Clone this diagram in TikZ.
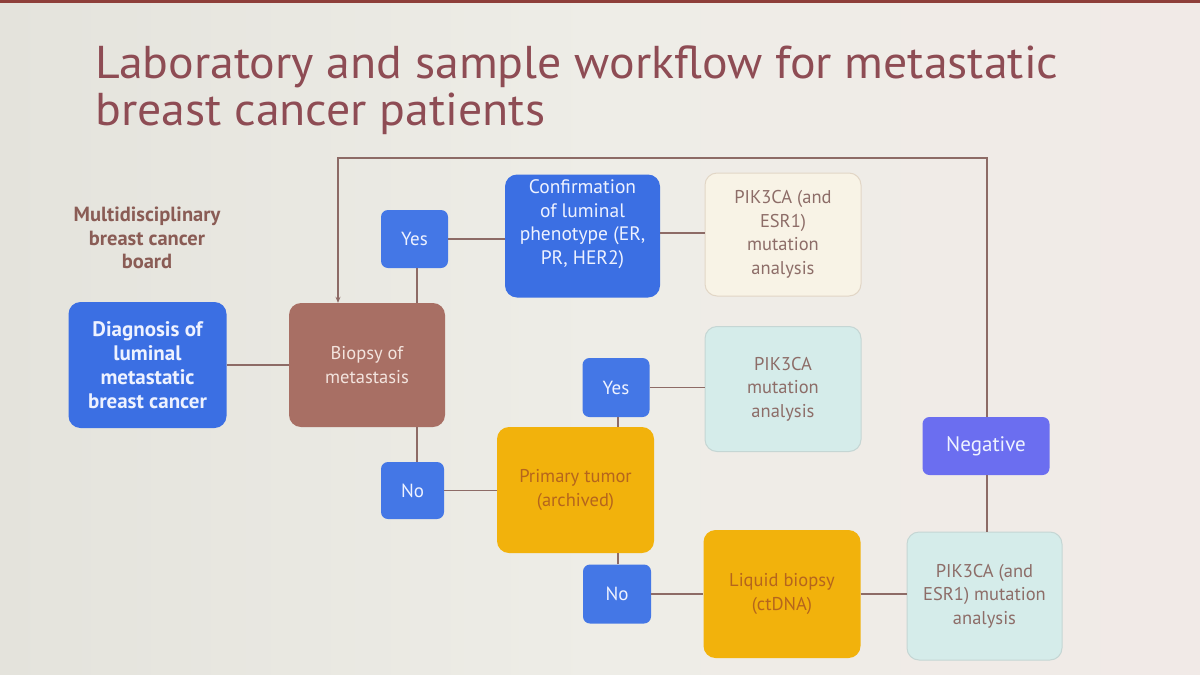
\documentclass[tikz,border=0pt]{standalone}
\usepackage{fontspec}
\setmainfont{PT Sans}
\usetikzlibrary{arrows.meta}
\definecolor{bgL}{HTML}{E4E3DC}
\definecolor{bgM}{HTML}{EEEDE7}
\definecolor{bgR}{HTML}{F1EAE7}
\definecolor{topred}{HTML}{8E3F3A}
\definecolor{titlec}{HTML}{8E4C54}
\definecolor{boardc}{HTML}{8A5C55}
\definecolor{blueA}{HTML}{3B6FE3}
\definecolor{blueY}{HTML}{4477E6}
\definecolor{negc}{HTML}{6B6EF0}
\definecolor{brownc}{HTML}{A86F64}
\definecolor{orangec}{HTML}{F2B20C}
\definecolor{creamc}{HTML}{F8F3E6}
\definecolor{creamb}{HTML}{E2D6C6}
\definecolor{cyanc}{HTML}{D5ECEA}
\definecolor{cyanb}{HTML}{C5D6D4}
\definecolor{graytxt}{HTML}{8D6D68}
\definecolor{oratxt}{HTML}{B5651D}
\definecolor{bluetxt}{HTML}{EEF2FF}
\definecolor{browntxt}{HTML}{F3E4DE}
\definecolor{linec}{HTML}{8D6B66}
\tikzset{
  box/.style={rounded corners=12pt, inner sep=0pt, align=center,
    font=\fontsize{18.5}{23.5}\selectfont},
  small/.style={rounded corners=7pt, inner sep=0pt, align=center,
    font=\fontsize{19}{23}\selectfont, fill=blueY, text=bluetxt},
  bluebox/.style={box, fill=blueA, text=bluetxt},
  brownbox/.style={box, fill=brownc, text=browntxt},
  orangebox/.style={box, fill=orangec, text=oratxt},
  creambox/.style={box, fill=creamc, draw=creamb, line width=1pt, text=graytxt},
  cyanbox/.style={box, fill=cyanc, draw=cyanb, line width=1pt, text=graytxt},
  conn/.style={draw=linec, line width=1.3pt},
}
\begin{document}
\begin{tikzpicture}[x=1pt,y=-1pt]
\useasboundingbox (0,0) rectangle (1200,675);
\shade[left color=bgL, right color=bgR, middle color=bgM] (0,0) rectangle (1200,675);
\fill[topred] (0,0) rectangle (1200,3);

% title
\node[anchor=base west, inner sep=0pt, text=titlec, xscale=1.04, font=\fontsize{46}{48}\selectfont] (title1) at (95,78) {Laboratory and sample workflow for metastatic};
\node[anchor=base west, inner sep=0pt, text=titlec, xscale=1.04, font=\fontsize{46}{48}\selectfont] (title2) at (95,125) {breast cancer patients};

% board label
\node[align=center, text=boardc, font=\bfseries\fontsize{20.5}{23.5}\selectfont] (board) at (147,238) {Multidisciplinary\\breast cancer\\board};

% boxes
\node[bluebox, minimum width=158pt, minimum height=126pt, font=\bfseries\fontsize{21}{24}\selectfont] (diag) at (147.5,365) {Diagnosis of\\luminal\\metastatic\\breast cancer};
\node[brownbox, minimum width=156pt, minimum height=124pt] (biopsy) at (367,365) {Biopsy of\\metastasis};
\node[small, minimum width=67pt, minimum height=58pt] (yes1) at (414.5,239) {Yes};
\node[bluebox, minimum width=155pt, minimum height=123pt, font=\fontsize{19.5}{23.5}\selectfont] (confirm) at (582.5,236) {Confirmation\\of luminal\\phenotype (ER,\\PR, HER2)\\[4pt]};
\node[creambox, minimum width=156pt, minimum height=123pt] (piktop) at (783,234.5) {PIK3CA (and\\ESR1)\\mutation\\analysis};
\node[small, minimum width=67pt, minimum height=59pt] (yes2) at (616,387.5) {Yes};
\node[cyanbox, minimum width=156pt, minimum height=125pt] (pikmut) at (783,389) {PIK3CA\\mutation\\analysis};
\node[small, minimum width=63pt, minimum height=57pt] (no1) at (412.5,490.5) {No};
\node[orangebox, minimum width=157pt, minimum height=126pt] (primary) at (575.5,490) {Primary tumor\\(archived)};
\node[small, minimum width=68pt, minimum height=59pt] (no2) at (617,594) {No};
\node[orangebox, minimum width=157pt, minimum height=128pt] (liquid) at (782,594) {Liquid biopsy\\(ctDNA)};
\node[small, fill=negc, minimum width=127pt, minimum height=58pt, font=\fontsize{21}{23}\selectfont] (neg) at (986,446) {Negative};
\node[cyanbox, minimum width=155pt, minimum height=128pt] (pikbot) at (984.5,596) {PIK3CA (and\\ESR1) mutation\\analysis};

% connectors
\coordinate (loop) at (338,158);
\draw[conn] (diag.east) -- (diag.east -| biopsy.west);
\draw[conn] ([xshift=2.5pt]yes1.south) -- ([xshift=2.5pt]yes1.south |- biopsy.north);
\draw[conn] (yes1.east) -- (yes1.east -| confirm.west);
\draw[conn] ([yshift=3pt]confirm.east) -- ([yshift=3pt]confirm.east -| piktop.west);
\draw[conn] ([xshift=4.5pt]no1.north) -- ([xshift=4.5pt]no1.north |- biopsy.south);
\draw[conn] (no1.east) -- (no1.east -| primary.west);
\draw[conn] ([xshift=2pt]yes2.south) -- ([xshift=2pt]yes2.south |- primary.north);
\draw[conn] (yes2.east) -- (yes2.east -| pikmut.west);
\draw[conn] ([xshift=1pt]no2.north) -- ([xshift=1pt]no2.north |- primary.south);
\draw[conn] (no2.east) -- (no2.east -| liquid.west);
\draw[conn] (liquid.east) -- (liquid.east -| pikbot.west);
\draw[conn] ([xshift=1pt]neg.south) -- ([xshift=1pt]neg.south |- pikbot.north);
\draw[conn, -{Stealth[length=6pt,width=5pt]}] ([xshift=1pt]neg.north) |- (loop) -- (loop |- biopsy.north);
\end{tikzpicture}
\end{document}
